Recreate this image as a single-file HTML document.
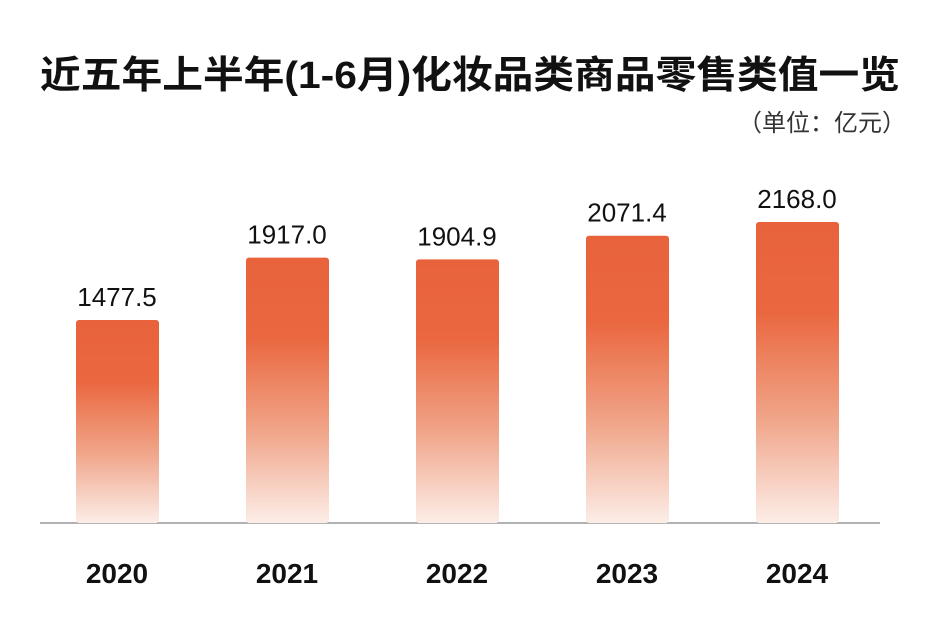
<!DOCTYPE html>
<html><head><meta charset="utf-8"><style>
body{margin:0;background:#fff;width:938px;height:619px;overflow:hidden;font-family:"Liberation Sans","Noto Sans CJK SC",sans-serif}
</style></head><body>
<svg id="chart" width="938" height="619" xmlns="http://www.w3.org/2000/svg">
<defs><linearGradient id="g" x1="0" y1="0" x2="0" y2="1">
<stop offset="0" stop-color="#E8633C"/><stop offset="0.3" stop-color="#EA673F"/><stop offset="0.65" stop-color="#F0A488"/><stop offset="1" stop-color="#FCEDE7"/></linearGradient></defs>
<text x="40" y="88" textLength="860" lengthAdjust="spacingAndGlyphs" font-size="38" font-weight="bold" fill="#111" font-family="'Liberation Sans','Noto Sans CJK SC',sans-serif">近五年上半年(1-6月)化妆品类商品零售类值一览</text>
<text x="906" y="131" text-anchor="end" font-size="24" fill="#333" font-family="'Liberation Sans','Noto Sans CJK SC',sans-serif">（单位：亿元）</text>
<line x1="40" y1="523" x2="880" y2="523" stroke="#999" stroke-width="1.5"/>
<g id="bars"></g>
</svg>
<script>
const categories=["2020","2021","2022","2023","2024"];
const values=[1477.5,1917.0,1904.9,2071.4,2168.0];
const valueLabels=["1477.5","1917.0","1904.9","2071.4","2168.0"];
const base=523, k=0.1419, v0=47;
function y(v){return base-(v-v0)*k;}
function xc(i){return 117+i*170;}
const ns="http://www.w3.org/2000/svg", g=document.getElementById('bars');
categories.forEach((c,i)=>{
 const r=document.createElementNS(ns,'rect');
 
 
 r.setAttribute('x',xc(i)-41);r.setAttribute('width',83);
 r.setAttribute('y',y(values[i]));r.setAttribute('height',base-y(values[i]));
 r.setAttribute('rx',3);r.setAttribute('fill','url(#g)');g.appendChild(r);
 const t=document.createElementNS(ns,'text');
 
 
 t.setAttribute('x',xc(i));t.setAttribute('y',y(values[i])-14);
 t.setAttribute('text-anchor','middle');t.setAttribute('font-size','26');t.setAttribute('fill','#111');
 t.textContent=valueLabels[i];g.appendChild(t);
 const l=document.createElementNS(ns,'text');
 
 
 l.setAttribute('x',xc(i));l.setAttribute('y',583);
 l.setAttribute('text-anchor','middle');l.setAttribute('font-size','28');l.setAttribute('font-weight','bold');l.setAttribute('fill','#111');
 l.textContent=c;g.appendChild(l);
});
</script>
</body></html>
